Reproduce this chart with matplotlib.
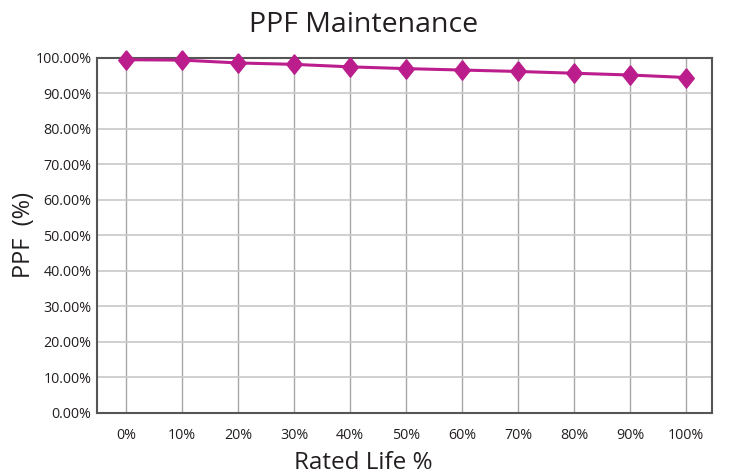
import matplotlib
matplotlib.use('Agg')
import matplotlib.pyplot as plt

# data
life_labels = ['0%', '10%', '20%', '30%', '40%', '50%', '60%', '70%', '80%', '90%', '100%']
ppf_values = [99.5, 99.4, 98.6, 98.2, 97.5, 97.0, 96.6, 96.2, 95.7, 95.2, 94.5]
y_ticks = [0, 10, 20, 30, 40, 50, 60, 70, 80, 90, 100]

text_color = '#231f20'
line_color = '#bb1e8c'

plt.rcParams['font.family'] = ['Open Sans', 'DejaVu Sans']

fig = plt.figure(figsize=(7.42, 4.76), dpi=100)
ax = fig.add_axes([0.1307, 0.1324, 0.8295, 0.7458])

x = list(range(len(life_labels)))

# custom diamond, a bit taller than wide
diamond = [(0, 1), (0.8, 0), (0, -1), (-0.8, 0), (0, 1)]
ax.plot(x, ppf_values, color=line_color, linewidth=2.2, marker=diamond,
        markersize=14, markerfacecolor=line_color, markeredgecolor=line_color,
        zorder=5, clip_on=False)

ax.set_xlim(-0.52, 10.47)
ax.set_ylim(0, 100)
ax.set_xticks(x)
ax.set_xticklabels(life_labels)
ax.set_yticks(y_ticks)
ax.set_yticklabels([f'{v:.2f}%' for v in y_ticks])

ax.grid(axis='y', color='#c8c8c8', linewidth=1.2)
ax.grid(axis='x', color='#a8a8a8', linewidth=1.0)
ax.set_axisbelow(True)

for s in ax.spines.values():
    s.set_color('#555555')
    s.set_linewidth(1.5)

ax.tick_params(axis='both', length=0, labelsize=10.3, colors=text_color)
ax.tick_params(axis='x', pad=11)
ax.tick_params(axis='y', pad=4)

# titles are centred on the figure, not the plot area
fig.text(0.4906, 0.933, 'PPF Maintenance', fontsize=20.5, color=text_color,
         ha='center', va='baseline')
fig.text(0.4893, 0.0147, 'Rated Life %', fontsize=17.5, color=text_color,
         ha='center', va='baseline')
fig.text(0.032, 0.506, 'PPF  (%)', fontsize=17, color=text_color,
         ha='center', va='center', rotation=90)

fig.savefig('out.png', dpi=100)
